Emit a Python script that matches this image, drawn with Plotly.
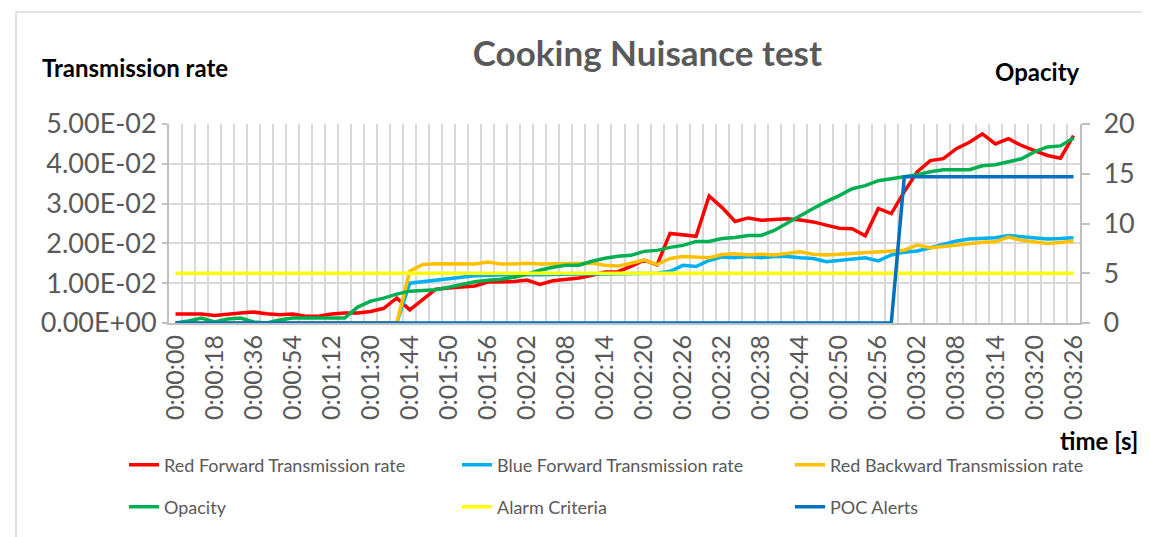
import plotly.graph_objects as go

# time stamps (category axis)
times = [
    "0:00:00", "0:00:06", "0:00:12", "0:00:18", "0:00:24", "0:00:30", "0:00:36", "0:00:42",
    "0:00:48", "0:00:54", "0:01:00", "0:01:06", "0:01:12", "0:01:18", "0:01:24", "0:01:30",
    "0:01:36", "0:01:42", "0:01:44", "0:01:46", "0:01:48", "0:01:50", "0:01:52", "0:01:54",
    "0:01:56", "0:01:58", "0:02:00", "0:02:02", "0:02:04", "0:02:06", "0:02:08", "0:02:10",
    "0:02:12", "0:02:14", "0:02:16", "0:02:18", "0:02:20", "0:02:22", "0:02:24", "0:02:26",
    "0:02:28", "0:02:30", "0:02:32", "0:02:34", "0:02:36", "0:02:38", "0:02:40", "0:02:42",
    "0:02:44", "0:02:46", "0:02:48", "0:02:50", "0:02:52", "0:02:54", "0:02:56", "0:02:58",
    "0:03:00", "0:03:02", "0:03:04", "0:03:06", "0:03:08", "0:03:10", "0:03:12", "0:03:14",
    "0:03:16", "0:03:18", "0:03:20", "0:03:22", "0:03:24", "0:03:26",
]

# transmission rates (left axis)
red_forward = [
    0.00225, 0.00225, 0.00225, 0.0019, 0.0021, 0.0025, 0.00275, 0.0023, 0.0021, 0.00225,
    0.0017, 0.0017, 0.00225, 0.0025, 0.0025, 0.0029, 0.0037, 0.0063, 0.0033, 0.0060,
    0.0085, 0.0088, 0.0090, 0.0093, 0.0103, 0.0104, 0.0104, 0.0108, 0.0097, 0.0106,
    0.0110, 0.0113, 0.0120, 0.0128, 0.0129, 0.0142, 0.0158, 0.0146, 0.0225, 0.0222,
    0.0218, 0.0319, 0.0290, 0.0255, 0.0264, 0.0258, 0.0260, 0.0262, 0.0259, 0.0254,
    0.0246, 0.0238, 0.0237, 0.0219, 0.0288, 0.0275, 0.0330, 0.0380, 0.0408, 0.0413,
    0.0438, 0.0454, 0.0475, 0.0450, 0.0463, 0.0446, 0.0433, 0.0421, 0.0414, 0.0471,
]
blue_forward = [
    0, 0, 0, 0, 0, 0, 0, 0, 0, 0,
    0, 0, 0, 0, 0, 0, 0, 0, 0.0100, 0.0104,
    0.0108, 0.0112, 0.0117, 0.0119, 0.0120, 0.0121, 0.0121, 0.0122, 0.0121, 0.0122,
    0.0123, 0.0123, 0.0124, 0.0123, 0.0124, 0.0124, 0.0124, 0.0125, 0.0130, 0.0145,
    0.0142, 0.0157, 0.0166, 0.0164, 0.0167, 0.0164, 0.0167, 0.0167, 0.0164, 0.0162,
    0.0154, 0.0158, 0.0162, 0.0164, 0.0156, 0.0171, 0.0178, 0.0181, 0.0189, 0.0198,
    0.0206, 0.0211, 0.0213, 0.0214, 0.0220, 0.0217, 0.0214, 0.0211, 0.0212, 0.0214,
]
red_backward = [
    0, 0, 0, 0, 0, 0, 0, 0, 0, 0,
    0, 0, 0, 0, 0, 0, 0, 0, 0.0130, 0.0147,
    0.0149, 0.0148, 0.0149, 0.0148, 0.0153, 0.0148, 0.0148, 0.0150, 0.0148, 0.0148,
    0.0148, 0.0149, 0.0150, 0.0145, 0.0143, 0.0150, 0.0158, 0.0147, 0.0162, 0.0167,
    0.0166, 0.0164, 0.0172, 0.0174, 0.0171, 0.0173, 0.0171, 0.0175, 0.0179, 0.0173,
    0.0171, 0.0173, 0.0175, 0.0176, 0.0179, 0.0181, 0.0183, 0.0196, 0.0189, 0.0192,
    0.0196, 0.0200, 0.0203, 0.0204, 0.0216, 0.0208, 0.0204, 0.0200, 0.0202, 0.0206,
]

# opacity side (right axis)
opacity = [
    0.0, 0.2, 0.5, 0.1, 0.4, 0.5, 0.1, 0.0, 0.3, 0.5,
    0.5, 0.5, 0.5, 0.5, 1.6, 2.2, 2.5, 2.9, 3.2, 3.3,
    3.35, 3.6, 3.9, 4.15, 4.3, 4.4, 4.6, 4.9, 5.3, 5.6,
    5.8, 5.8, 6.2, 6.5, 6.7, 6.8, 7.2, 7.3, 7.6, 7.8,
    8.2, 8.2, 8.5, 8.6, 8.8, 8.8, 9.3, 10.0, 10.7, 11.5,
    12.2, 12.8, 13.5, 13.8, 14.3, 14.5, 14.7, 14.9, 15.2, 15.4,
    15.4, 15.4, 15.8, 15.9, 16.2, 16.5, 17.2, 17.7, 17.8, 18.6,
]
alarm_criteria = [
    5, 5, 5, 5, 5, 5, 5, 5, 5, 5, 5, 5, 5, 5, 5, 5, 5, 5, 5, 5,
    5, 5, 5, 5, 5, 5, 5, 5, 5, 5, 5, 5, 5, 5, 5, 5, 5, 5, 5, 5,
    5, 5, 5, 5, 5, 5, 5, 5, 5, 5, 5, 5, 5, 5, 5, 5, 5, 5, 5, 5,
    5, 5, 5, 5, 5, 5, 5, 5, 5, 5,
]
poc_alerts = [
    0, 0, 0, 0, 0, 0, 0, 0, 0, 0, 0, 0, 0, 0, 0, 0, 0, 0, 0, 0,
    0, 0, 0, 0, 0, 0, 0, 0, 0, 0, 0, 0, 0, 0, 0, 0, 0, 0, 0, 0,
    0, 0, 0, 0, 0, 0, 0, 0, 0, 0, 0, 0, 0, 0, 0, 0, 14.7, 14.7, 14.7, 14.7,
    14.7, 14.7, 14.7, 14.7, 14.7, 14.7, 14.7, 14.7, 14.7, 14.7,
]

left_ticks = [0, 0.01, 0.02, 0.03, 0.04, 0.05]
left_tick_text = ["0.00E+00", "1.00E-02", "2.00E-02", "3.00E-02", "4.00E-02", "5.00E-02"]

FONT = "Lato"
GREY = "#595959"
GRID = "#d9d9d9"
AXIS = "#bfbfbf"

x = list(range(len(times)))
label_pos = x[::3]
label_txt = times[::3]

fig = go.Figure()

left_series = [
    ("Red Forward Transmission rate", red_forward, "#FF0000"),
    ("Blue Forward Transmission rate", blue_forward, "#00B0F0"),
    ("Red Backward Transmission rate", red_backward, "#FFC000"),
]
for name, vals, col in left_series:
    fig.add_trace(go.Scatter(x=x, y=vals, name=name, mode="lines",
                             line=dict(color=col, width=3.5), legend="legend"))

right_series = [
    ("Opacity", opacity, "#00B050"),
    ("Alarm Criteria", alarm_criteria, "#FFFF00"),
    ("POC Alerts", poc_alerts, "#0070C0"),
]
for name, vals, col in right_series:
    fig.add_trace(go.Scatter(x=x, y=vals, name=name, mode="lines", yaxis="y2",
                             line=dict(color=col, width=3.5), legend="legend2"))

# plot area in pixels
L, R, T, B = 161, 1072, 116, 315
W, H = R - L, B - T


def px(v):
    return (v - L) / W


def py(v):
    return (B - v) / H


legend_style = dict(orientation="h", xanchor="left", yanchor="middle",
                     bgcolor="rgba(0,0,0,0)", entrywidth=288, entrywidthmode="pixels",
                     font=dict(family=FONT, size=18, color=GREY))

fig.update_layout(
    width=1150, height=537,
    margin=dict(l=L, r=1150 - R, t=T, b=537 - B),
    paper_bgcolor="white", plot_bgcolor="white",
    font=dict(family=FONT, color=GREY),
    title=dict(text="Cooking Nuisance test", x=0.556, y=1 - 46 / 537,
               xanchor="center", yanchor="middle",
               font=dict(family=FONT, size=35, color=GREY, weight="bold")),
    xaxis=dict(range=[-0.5, len(times) - 0.5], tickmode="array",
               tickvals=label_pos, ticktext=label_txt, tickangle=-90,
               tickfont=dict(family=FONT, size=25, color=GREY),
               showgrid=False, zeroline=False, ticks="",
               showline=True, linecolor=AXIS, linewidth=2,
               minor=dict(tickmode="linear", tick0=-0.5, dtick=1, showgrid=True,
                          gridcolor=GRID, gridwidth=2, ticks="")),
    yaxis=dict(range=[0, 0.05], tickmode="array", tickvals=left_ticks,
               ticktext=left_tick_text, tickfont=dict(family=FONT, size=27, color=GREY),
               showgrid=True, gridcolor=GRID, gridwidth=2, zeroline=False,
               showline=True, linecolor=AXIS, linewidth=2,
               ticks="outside", ticklen=5, tickcolor=AXIS, tickwidth=2),
    yaxis2=dict(range=[0, 20], dtick=5, overlaying="y", side="right",
                tickfont=dict(family=FONT, size=27, color=GREY),
                showgrid=False, zeroline=False, showline=True, linecolor=AXIS,
                linewidth=2, ticks="outside", ticklen=8, tickcolor=AXIS, tickwidth=2,
                ticklabelstandoff=8),
    legend=dict(x=px(116), y=py(457), **legend_style),
    legend2=dict(x=px(116), y=py(499), **legend_style),
    showlegend=True,
    annotations=[
        dict(text="<b>Transmission rate</b>", x=px(32), y=py(60), xref="paper", yref="paper",
             xanchor="left", yanchor="middle", showarrow=False,
             font=dict(family=FONT, size=24, color="black")),
        dict(text="<b>Opacity</b>", x=px(985), y=py(64), xref="paper", yref="paper",
             xanchor="left", yanchor="middle", showarrow=False,
             font=dict(family=FONT, size=24, color="black")),
        dict(text="<b>time [s]</b>", x=px(1132), y=py(432), xref="paper", yref="paper",
             xanchor="right", yanchor="middle", showarrow=False,
             font=dict(family=FONT, size=24, color="black")),
    ],
    shapes=[
        dict(type="rect", xref="paper", yref="paper", x0=px(8), x1=px(1142),
             y0=py(531), y1=py(4), line=dict(color=GRID, width=1.5)),
    ],
)

fig.write_html("out.html")
